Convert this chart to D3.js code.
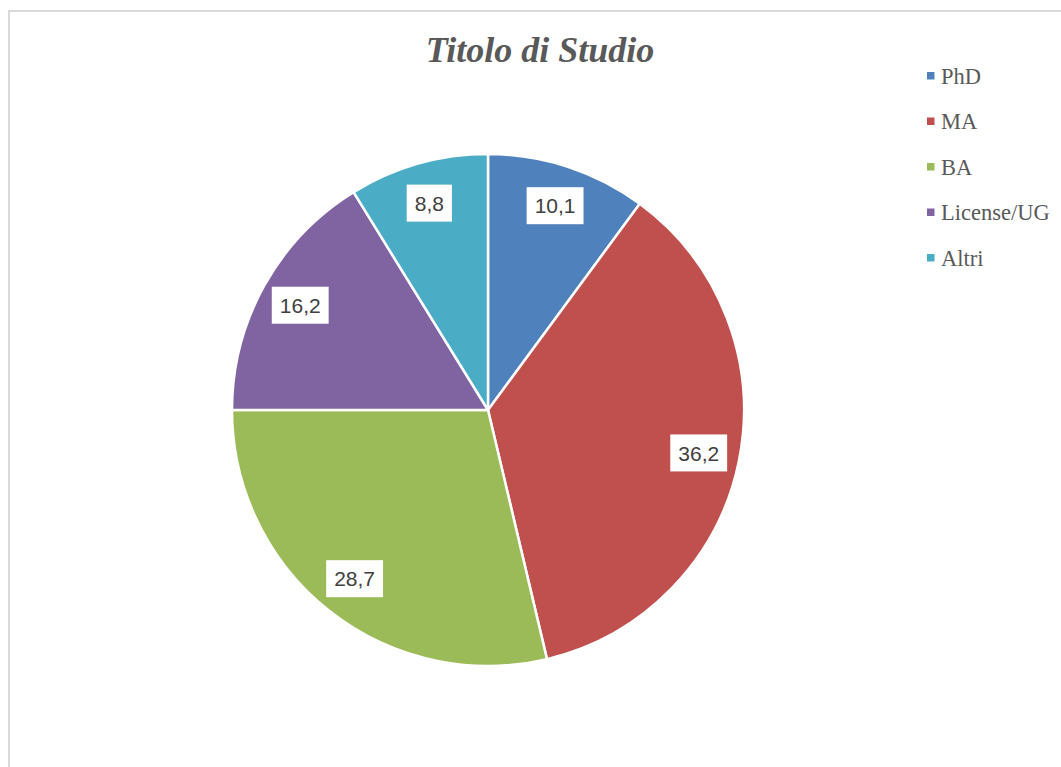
<!DOCTYPE html>
<html>
<head>
<meta charset="utf-8">
<script src="https://cdn.jsdelivr.net/npm/d3@7/dist/d3.min.js"></script>
<style>
  html, body { margin: 0; padding: 0; background: #fff; }
  svg { display: block; }
</style>
</head>
<body>
<svg id="chart" width="1061" height="767"></svg>
<script>
// Distribution of educational qualifications (percent)
const categories = ["PhD", "MA", "BA", "License/UG", "Altri"];
const values = [10.1, 36.2, 28.7, 16.2, 8.8];
const labels = ["10,1", "36,2", "28,7", "16,2", "8,8"];
const colors = ["#4F81BD", "#C0504D", "#9BBB59", "#8064A2", "#4BACC6"];
const title = "Titolo di Studio";

const svg = d3.select("#chart");
const W = 1061, H = 767;

// chart area frame
svg.append("rect")
  .attr("x", 9).attr("y", 11)
  .attr("width", W + 20).attr("height", H + 20)
  .attr("fill", "#fff")
  .attr("stroke", "#d9d9d9")
  .attr("stroke-width", 2);

// title
svg.append("text")
  .attr("x", 540).attr("y", 62)
  .attr("text-anchor", "middle")
  .attr("font-family", "'Liberation Serif', 'Times New Roman', serif")
  .attr("font-style", "italic")
  .attr("font-weight", "bold")
  .attr("font-size", 36)
  .attr("fill", "#595959")
  .text(title);

const cx = 488, cy = 410, r = 256;
const color = d3.scaleOrdinal().domain(categories).range(colors);

const pie = d3.pie().sort(null).value(d => d.value).startAngle(0).endAngle(2 * Math.PI);
const data = categories.map((c, i) => ({ name: c, value: values[i], label: labels[i] }));
const arcs = pie(data);

const arc = d3.arc().innerRadius(0).outerRadius(r);
const labelArc = d3.arc().innerRadius(r * 0.84).outerRadius(r * 0.84);

const g = svg.append("g").attr("transform", `translate(${cx},${cy})`);

g.selectAll("path.slice")
  .data(arcs)
  .join("path")
  .attr("class", "slice")
  .attr("d", arc)
  .attr("fill", d => color(d.data.name))
  .attr("stroke", "#fff")
  .attr("stroke-width", 2.5)
  .attr("stroke-linejoin", "round");

// data labels in white boxes
const lg = g.selectAll("g.lbl")
  .data(arcs)
  .join("g")
  .attr("class", "lbl")
  .attr("transform", d => `translate(${labelArc.centroid(d)})`);

lg.append("text")
  .attr("text-anchor", "middle")
  .attr("dy", "0.36em")
  .attr("font-family", "'Liberation Sans', Arial, sans-serif")
  .attr("font-size", 21)
  .attr("fill", "#404040")
  .text(d => d.data.label)
  .each(function () {
    const b = this.getBBox();
    d3.select(this.parentNode).insert("rect", "text")
      .attr("x", b.x - 8).attr("y", -18.5)
      .attr("width", b.width + 16).attr("height", 37)
      .attr("fill", "#fff");
  });

// legend
const legend = svg.append("g");
const ly0 = 76, lstep = 45.5;
const items = legend.selectAll("g")
  .data(categories)
  .join("g")
  .attr("transform", (d, i) => `translate(927,${ly0 + i * lstep})`);

items.append("rect")
  .attr("x", 0).attr("y", -4)
  .attr("width", 7.5).attr("height", 7.5)
  .attr("fill", d => color(d));

items.append("text")
  .attr("x", 14).attr("y", 0)
  .attr("dy", "0.35em")
  .attr("font-family", "'Liberation Serif', 'Times New Roman', serif")
  .attr("font-size", 22.5)
  .attr("fill", "#595959")
  .text(d => d);
</script>
</body>
</html>
